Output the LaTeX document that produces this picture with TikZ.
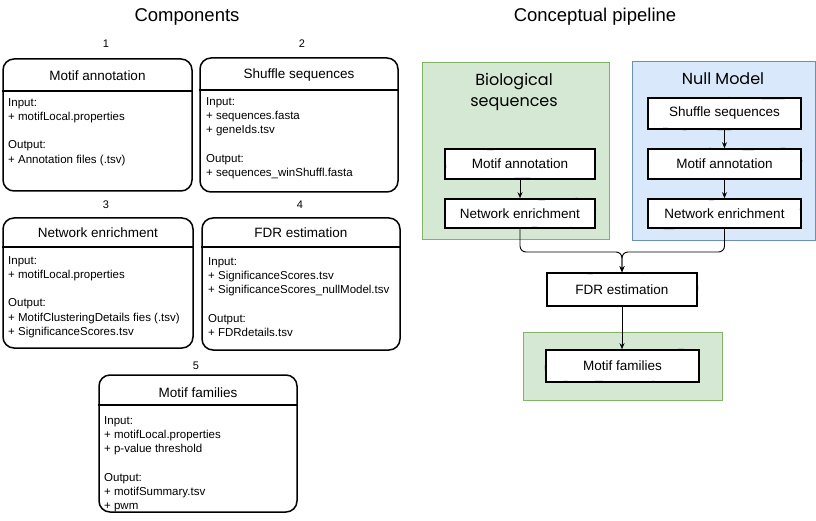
\documentclass[tikz,border=0pt]{standalone}
\usepackage{fontspec}
\setmainfont{Liberation Sans}
\newfontfamily\handfont{Poppins}
\usetikzlibrary{arrows.meta,decorations.pathmorphing}
\definecolor{gfill}{HTML}{D5E8D4}
\definecolor{gline}{HTML}{82B366}
\definecolor{bfill}{HTML}{DAE8FC}
\definecolor{bline}{HTML}{6C8EBF}
\tikzset{
  compbox/.style={draw, line width=1.5pt, rounded corners=11pt, inner sep=0pt, fill=white},
  headline/.style={line width=1.3pt},
  comptitle/.style={inner sep=0pt, font=\fontsize{13.5}{16}\selectfont},
  compbody/.style={inner sep=0pt, anchor=north west, align=left, font=\fontsize{11.5}{14.1}\selectfont},
  numlabel/.style={inner sep=0pt, font=\fontsize{11}{13}\selectfont},
  heading/.style={inner sep=0pt, font=\fontsize{18.5}{22}\selectfont},
  pipebox/.style={draw, line width=1.6pt, fill=white, inner sep=0pt, font=\fontsize{13.5}{16}\selectfont,
    postaction={draw, line width=0.7pt, decorate, decoration={random steps, segment length=18pt, amplitude=0.8pt}}},
  greenbox/.style={draw=gline, fill=gfill, line width=0.9pt, inner sep=0pt},
  bluebox/.style={draw=bline, fill=bfill, line width=0.9pt, inner sep=0pt},
  handtext/.style={inner sep=0pt, font=\handfont\fontsize{16}{23}\selectfont, align=center},
  arr/.style={-{Stealth[length=6pt,width=5pt]}, line width=0.9pt},
}
\begin{document}
\begin{tikzpicture}[x=1pt,y=-1pt]
\pgfmathsetseed{7}
\useasboundingbox (0,0) rectangle (816,521);

% headings
\node[heading] (hcomp) at (187,17) {Components};
\node[heading] (hpipe) at (595,17) {Conceptual pipeline};

% ---- component 1
\node[numlabel] (n1) at (106,44) {1};
\node[compbox, minimum width=189pt, minimum height=132pt] (b1) at (97.5,125) {};
\draw[headline] (b1.west |- 0,91) -- (b1.east |- 0,91);
\node[comptitle] (t1) at (97.5,76) {Motif annotation};
\node[compbody] (d1) at (8,98.5) {Input:\\+ motifLocal.properties\\[14.1pt]Output:\\+ Annotation files (.tsv)};

% ---- component 2
\node[numlabel] (n2) at (302,44) {2};
\node[compbox, minimum width=198pt, minimum height=134pt] (b2) at (299,125) {};
\draw[headline] (b2.west |- 0,90) -- (b2.east |- 0,90);
\node[comptitle] (t2) at (299,75) {Shuffle sequences};
\node[compbody] (d2) at (206,97.5) {Input:\\+ sequences.fasta\\+ geneIds.tsv\\[14.1pt]Output:\\+ sequences\_winShuffl.fasta};

% ---- component 3
\node[numlabel] (n3) at (106,205) {3};
\node[compbox, minimum width=190pt, minimum height=130pt] (b3) at (98,283) {};
\draw[headline] (b3.west |- 0,247) -- (b3.east |- 0,247);
\node[comptitle] (t3) at (98,233) {Network enrichment};
\node[compbody] (d3) at (8,256.5) {Input:\\+ motifLocal.properties\\[14.1pt]Output:\\+ MotifClusteringDetails fies (.tsv)\\+ SignificanceScores.tsv};

% ---- component 4
\node[numlabel] (n4) at (300,205) {4};
\node[compbox, minimum width=198pt, minimum height=132pt] (b4) at (301,284) {};
\draw[headline] (b4.west |- 0,247) -- (b4.east |- 0,247);
\node[comptitle] (t4) at (301,233) {FDR estimation};
\node[compbody] (d4) at (208,257.5) {Input:\\+ SignificanceScores.tsv\\+ SignificanceScores\_nullModel.tsv\\[14.1pt]Output:\\+ FDRdetails.tsv};

% ---- component 5
\node[numlabel] (n5) at (196,366) {5};
\node[compbox, minimum width=198pt, minimum height=137pt] (b5) at (198,443.5) {};
\draw[headline] (b5.west |- 0,405) -- (b5.east |- 0,405);
\node[comptitle] (t5) at (198,393) {Motif families};
\node[compbody] (d5) at (104,416.5) {Input:\\+ motifLocal.properties\\+ p-value threshold\\[14.1pt]Output:\\+ motifSummary.tsv\\+ pwm};

% ---- conceptual pipeline containers
\node[greenbox, minimum width=187pt, minimum height=177pt] (bio) at (515.5,150.5) {};
\node[bluebox, minimum width=183pt, minimum height=179pt] (null) at (723.5,150.5) {};
\node[greenbox, minimum width=199pt, minimum height=68pt] (fam) at (622.5,366) {};

\node[handtext] (biot) at (514,92) {Biological\\[-2pt]sequences};
\node[handtext] (nullt) at (723,79) {Null Model};

% pipeline boxes
\node[pipebox, minimum width=150pt, minimum height=30pt] (ma1) at (520,164) {Motif annotation};
\node[pipebox, minimum width=150pt, minimum height=29pt] (ne1) at (520,213.5) {Network enrichment};
\node[pipebox, minimum width=153pt, minimum height=31pt] (ss2) at (724.5,113.5) {Shuffle sequences};
\node[pipebox, minimum width=153pt, minimum height=30pt] (ma2) at (724.5,164) {Motif annotation};
\node[pipebox, minimum width=153pt, minimum height=29pt] (ne2) at (724.5,213.5) {Network enrichment};
\node[pipebox, minimum width=150pt, minimum height=33pt] (fdr) at (622,289.5) {FDR estimation};
\node[pipebox, minimum width=153pt, minimum height=32pt] (mf) at (622.5,366) {Motif families};

% connectors
\draw[arr] (ma1) -- (ma1.south |- ne1.north);
\draw[arr] (ss2) -- (ss2.south |- ma2.north);
\draw[arr] (ma2) -- (ma2.south |- ne2.north);
\coordinate (j) at (622,252);
\draw[arr, rounded corners=6pt] (ne1.south) |- (j) -- (fdr.north);
\draw[arr, rounded corners=6pt] (ne2.south) |- (j) -- (fdr.north);
\draw[arr] (fdr.south) -- (fdr.south |- mf.north);
\end{tikzpicture}
\end{document}
